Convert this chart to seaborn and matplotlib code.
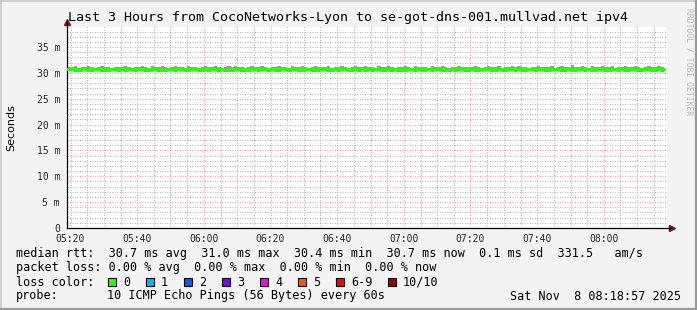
import numpy as np
import pandas as pd
import seaborn as sns
import matplotlib
matplotlib.use("Agg")
import matplotlib.pyplot as plt
import matplotlib.dates as mdates
from matplotlib.patches import Rectangle
from matplotlib.lines import Line2D
from matplotlib.ticker import FuncFormatter, MultipleLocator

# ---------------- data ----------------
title = "Last 3 Hours from CocoNetworks-Lyon to se-got-dns-001.mullvad.net ipv4"
start_time = "2025-11-08 05:19"
n_points = 180
view_start = "2025-11-08 05:18:57"
view_end = "2025-11-08 08:18:57"

median_ms = [
    30.70, 30.74, 30.70, 30.66, 30.70, 30.68, 30.64, 30.70, 30.72, 30.76, 30.70, 30.68, 30.62, 30.70, 30.72, 30.78, 30.70, 30.66, 30.70, 30.72,
    30.70, 30.68, 30.76, 30.72, 30.62, 30.70, 30.74, 30.70, 30.60, 30.64, 30.70, 30.78, 30.72, 30.70, 30.74, 30.62, 30.68, 30.72, 30.78, 30.70,
    30.64, 30.70, 30.72, 30.70, 30.76, 30.70, 30.74, 30.62, 30.60, 30.70, 30.72, 30.78, 30.70, 30.68, 30.62, 30.70, 30.74, 30.70, 30.78, 30.72,
    30.68, 30.72, 30.62, 30.70, 30.74, 30.70, 30.66, 30.72, 30.78, 30.70, 30.64, 30.70, 30.72, 30.68, 30.60, 30.70, 30.74, 30.72, 30.70, 30.66,
    30.72, 30.70, 30.76, 30.70, 30.64, 30.68, 30.72, 30.70, 30.74, 30.62, 30.70, 30.72, 30.78, 30.70, 30.66, 30.70, 30.74, 30.68, 30.70, 30.72,
    30.70, 30.64, 30.70, 30.76, 30.72, 30.70, 30.62, 30.68, 30.74, 30.70, 30.72, 30.78, 30.70, 30.66, 30.60, 30.70, 30.72, 30.70, 30.76, 30.70,
    30.68, 30.72, 30.70, 30.62, 30.70, 30.74, 30.78, 30.70, 30.66, 30.70, 30.72, 30.64, 30.70, 30.76, 30.72, 30.70, 30.68, 30.62, 30.70, 30.74,
    30.70, 30.76, 30.72, 30.70, 30.64, 30.70, 30.78, 30.74, 30.70, 30.68, 30.72, 30.62, 30.70, 30.74, 30.80, 30.72, 30.70, 30.66, 30.70, 30.72,
    30.74, 30.70, 30.66, 30.72, 30.78, 30.70, 30.72, 30.64, 30.70, 30.76, 30.70, 30.68, 30.72, 30.70, 30.74, 30.66, 30.70, 30.72, 30.70, 30.68,
]
smoke_high_ms = [
    31.15, 31.10, 31.35, 31.05, 31.25, 31.10, 31.30, 31.15, 31.05, 31.10, 31.40, 31.15, 31.10, 31.05, 31.25, 31.15, 31.10, 31.30, 31.15, 31.05,
    31.25, 31.10, 31.35, 31.15, 31.05, 31.30, 31.10, 31.15, 31.40, 31.25, 31.05, 31.15, 31.30, 31.10, 31.25, 31.05, 31.35, 31.15, 31.10, 31.05,
    31.15, 31.30, 31.10, 31.25, 31.35, 31.15, 31.05, 31.10, 31.30, 31.15, 31.40, 31.10, 31.25, 31.05, 31.15, 31.35, 31.10, 31.15, 31.30, 31.10,
    31.05, 31.25, 31.15, 31.35, 31.10, 31.15, 31.05, 31.30, 31.25, 31.10, 31.40, 31.15, 31.05, 31.10, 31.30, 31.15, 31.25, 31.10, 31.35, 31.05,
    31.15, 31.10, 31.30, 31.25, 31.05, 31.15, 31.35, 31.10, 31.15, 31.40, 31.10, 31.25, 31.05, 31.30, 31.15, 31.10, 31.35, 31.15, 31.05, 31.25,
    31.10, 31.30, 31.15, 31.05, 31.35, 31.15, 31.10, 31.25, 31.05, 31.30, 31.15, 31.10, 31.40, 31.15, 31.05, 31.25, 31.10, 31.30, 31.15, 31.10,
    31.25, 31.10, 31.35, 31.15, 31.05, 31.15, 31.30, 31.10, 31.25, 31.35, 31.05, 31.15, 31.10, 31.30, 31.15, 31.40, 31.10, 31.25, 31.05, 31.15,
    31.10, 31.30, 31.15, 31.10, 31.25, 31.35, 31.05, 31.15, 31.30, 31.10, 31.15, 31.45, 31.25, 31.10, 31.30, 31.15, 31.05, 31.35, 31.10, 31.15,
    31.30, 31.10, 31.15, 31.35, 31.05, 31.25, 31.10, 31.40, 31.15, 31.10, 31.30, 31.15, 31.05, 31.25, 31.35, 31.10, 31.15, 31.30, 31.10, 31.05,
]
smoke_low_ms = [
    30.30, 30.35, 30.25, 30.15, 30.30, 30.35, 30.20, 30.25, 30.35, 30.30, 30.25, 30.20, 30.10, 30.30, 30.35, 30.25, 30.30, 30.20, 30.35, 30.30,
    30.25, 30.30, 30.35, 30.25, 30.15, 30.30, 30.35, 30.25, 30.10, 30.20, 30.30, 30.35, 30.25, 30.30, 30.35, 30.15, 30.25, 30.30, 30.35, 30.25,
    30.20, 30.30, 30.25, 30.35, 30.30, 30.25, 30.35, 30.15, 30.10, 30.25, 30.30, 30.35, 30.25, 30.20, 30.15, 30.30, 30.35, 30.25, 30.30, 30.35,
    30.25, 30.30, 30.15, 30.25, 30.35, 30.30, 30.20, 30.30, 30.35, 30.25, 30.15, 30.30, 30.35, 30.20, 30.10, 30.25, 30.35, 30.30, 30.25, 30.20,
    30.30, 30.25, 30.35, 30.30, 30.15, 30.20, 30.30, 30.25, 30.35, 30.15, 30.30, 30.25, 30.35, 30.30, 30.20, 30.25, 30.35, 30.20, 30.30, 30.25,
    30.25, 30.15, 30.30, 30.35, 30.25, 30.30, 30.10, 30.20, 30.35, 30.25, 30.30, 30.35, 30.25, 30.20, 30.10, 30.30, 30.25, 30.30, 30.35, 30.25,
    30.20, 30.30, 30.25, 30.15, 30.30, 30.35, 30.30, 30.25, 30.20, 30.30, 30.25, 30.15, 30.30, 30.35, 30.25, 30.30, 30.20, 30.10, 30.30, 30.35,
    30.25, 30.35, 30.30, 30.25, 30.15, 30.30, 30.35, 30.30, 30.25, 30.20, 30.30, 30.15, 30.25, 30.35, 30.30, 30.25, 30.30, 30.20, 30.25, 30.30,
    30.35, 30.25, 30.20, 30.30, 30.35, 30.25, 30.30, 30.15, 30.25, 30.35, 30.30, 30.20, 30.25, 30.30, 30.35, 30.20, 30.25, 30.30, 30.25, 30.20,
]

y_ticks = [0, 5, 10, 15, 20, 25, 30, 35]
y_max = 38.9

rtt_stats = {"avg": 30.7, "max": 31.0, "min": 30.4, "now": 30.7, "sd": 0.1, "ams": 331.5}
loss_stats = {"avg": 0.00, "max": 0.00, "min": 0.00, "now": 0.00}
loss_labels = ["0", "1", "2", "3", "4", "5", "6-9", "10/10"]
loss_colors = ["#26ff00", "#00b8ff", "#0059ff", "#7e00ff", "#ff00ea", "#ff5500", "#ff0000", "#a10000"]
probe_text = "10 ICMP Echo Pings (56 Bytes) every 60s"
date_text = "Sat Nov  8 08:18:57 2025"

# ---------------- figure ----------------
W, H = 697, 310
sns.set_theme(style="white")
plt.rcParams['font.family'] = ['DejaVu Sans Mono', 'DejaVu Sans']
plt.rcParams['text.color'] = 'black'

fig = plt.figure(figsize=(W / 100, H / 100), dpi=100, facecolor='#f3f3f3')


def fx(px):
    return px / W


def fy(py):
    return 1 - py / H


ax = fig.add_axes([fx(67), fy(228), fx(667) - fx(67), fy(27) - fy(228)])
ax.set_facecolor('white')

times = pd.date_range(start_time, periods=n_points, freq="1min")
df = pd.DataFrame({"time": times, "median": median_ms, "lo": smoke_low_ms, "hi": smoke_high_ms})

ax.fill_between(df["time"], df["lo"], df["hi"], step="post", color="#9a9a9a", lw=0, zorder=2)
sns.lineplot(data=df, x="time", y="median", drawstyle="steps-post", color="#26ff00",
             lw=2.2, ax=ax, zorder=3)

ax.set_xlim(pd.Timestamp(view_start), pd.Timestamp(view_end))
ax.set_ylim(0, y_max)

ax.xaxis.set_major_locator(mdates.MinuteLocator(byminute=[0, 20, 40]))
ax.xaxis.set_minor_locator(mdates.MinuteLocator(byminute=list(range(0, 60, 5))))
ax.xaxis.set_major_formatter(mdates.DateFormatter("%H:%M"))
ax.set_yticks(y_ticks)
ax.yaxis.set_minor_locator(MultipleLocator(1))
ax.yaxis.set_major_formatter(FuncFormatter(lambda v, p: "0" if v == 0 else f"{int(round(v))} m"))

ax.grid(which='major', axis='both', color=(1.0, 0.45, 0.45, 0.6), ls=(0, (1, 2)), lw=0.6, zorder=1)
ax.grid(which='minor', axis='both', color=(0.6, 0.6, 0.6, 0.45), ls=(0, (1, 2)), lw=0.6, zorder=1)
ax.set_axisbelow(True)

ax.tick_params(axis='both', which='major', labelsize=7, length=2, width=0.8, color='#dd6666', pad=3)
ax.tick_params(axis='both', which='minor', length=1, width=0.6, color='#aaaaaa')
ax.tick_params(axis='x', which='major', pad=2)
ax.set_xlabel("")
ax.set_ylabel("")

for s in ['top', 'right']:
    ax.spines[s].set_visible(False)
for s in ['left', 'bottom']:
    ax.spines[s].set_color('black')
    ax.spines[s].set_linewidth(0.9)

# axis extensions and arrows
fig.add_artist(Line2D([fx(67), fx(67)], [fy(27), fy(22)], color='black', lw=0.9))
fig.add_artist(Line2D([fx(667), fx(671)], [fy(228), fy(228)], color='black', lw=0.9))
ax.plot([0], [1.025], marker='^', ms=4.5, color='#7a1414', transform=ax.transAxes, clip_on=False)
ax.plot([1.008], [0], marker='>', ms=4.5, color='#7a1414', transform=ax.transAxes, clip_on=False)

# title and labels
fig.text(fx(68), fy(18), title, fontsize=9.6, ha='left', va='center')
fig.text(fx(11), fy(128), "Seconds", rotation=90, family='DejaVu Sans', fontsize=8,
         ha='center', va='center')
fig.text(fx(689), fy(62), "RRDTOOL / TOBI OETIKER", rotation=270, fontsize=5.8,
         color='#b8b8b8', ha='center', va='center')

# legend lines
lf = 8.5
row1 = (f"median rtt:  {rtt_stats['avg']:.1f} ms avg  {rtt_stats['max']:.1f} ms max  "
        f"{rtt_stats['min']:.1f} ms min  {rtt_stats['now']:.1f} ms now  {rtt_stats['sd']:.1f} ms sd  "
        f"{rtt_stats['ams']:.1f}   am/s")
row2 = (f"packet loss: {loss_stats['avg']:.2f} % avg  {loss_stats['max']:.2f} % max  "
        f"{loss_stats['min']:.2f} % min  {loss_stats['now']:.2f} % now")
fig.text(fx(16), fy(254), row1, fontsize=lf, ha='left', va='center')
fig.text(fx(16), fy(268), row2, fontsize=lf, ha='left', va='center')
fig.text(fx(16), fy(282), "loss color:", fontsize=lf, ha='left', va='center')
fig.text(fx(16), fy(296), "probe:", fontsize=lf, ha='left', va='center')
fig.text(fx(107), fy(296), probe_text, fontsize=lf, ha='left', va='center')
fig.text(fx(681), fy(296), date_text, fontsize=lf, ha='right', va='center')

x = 108
for lab, col in zip(loss_labels, loss_colors):
    fig.add_artist(Rectangle((fx(x), fy(286)), fx(8), 8 / H, transform=fig.transFigure,
                             facecolor=col, edgecolor='black', lw=0.8))
    fig.text(fx(x + 15), fy(282), lab, fontsize=lf, ha='left', va='center')
    x = x + 15 + 7 * len(lab) + 16

# 3D border
fig.add_artist(Line2D([0, 1], [fy(0.5), fy(0.5)], color='#cbcbcb', lw=1.2))
fig.add_artist(Line2D([fx(0.5), fx(0.5)], [0, 1], color='#cbcbcb', lw=1.2))
fig.add_artist(Line2D([0, 1], [fy(309), fy(309)], color='#999999', lw=1.6))
fig.add_artist(Line2D([fx(696), fx(696)], [0, 1], color='#999999', lw=1.6))

fig.savefig("out.png", dpi=100, facecolor=fig.get_facecolor())
